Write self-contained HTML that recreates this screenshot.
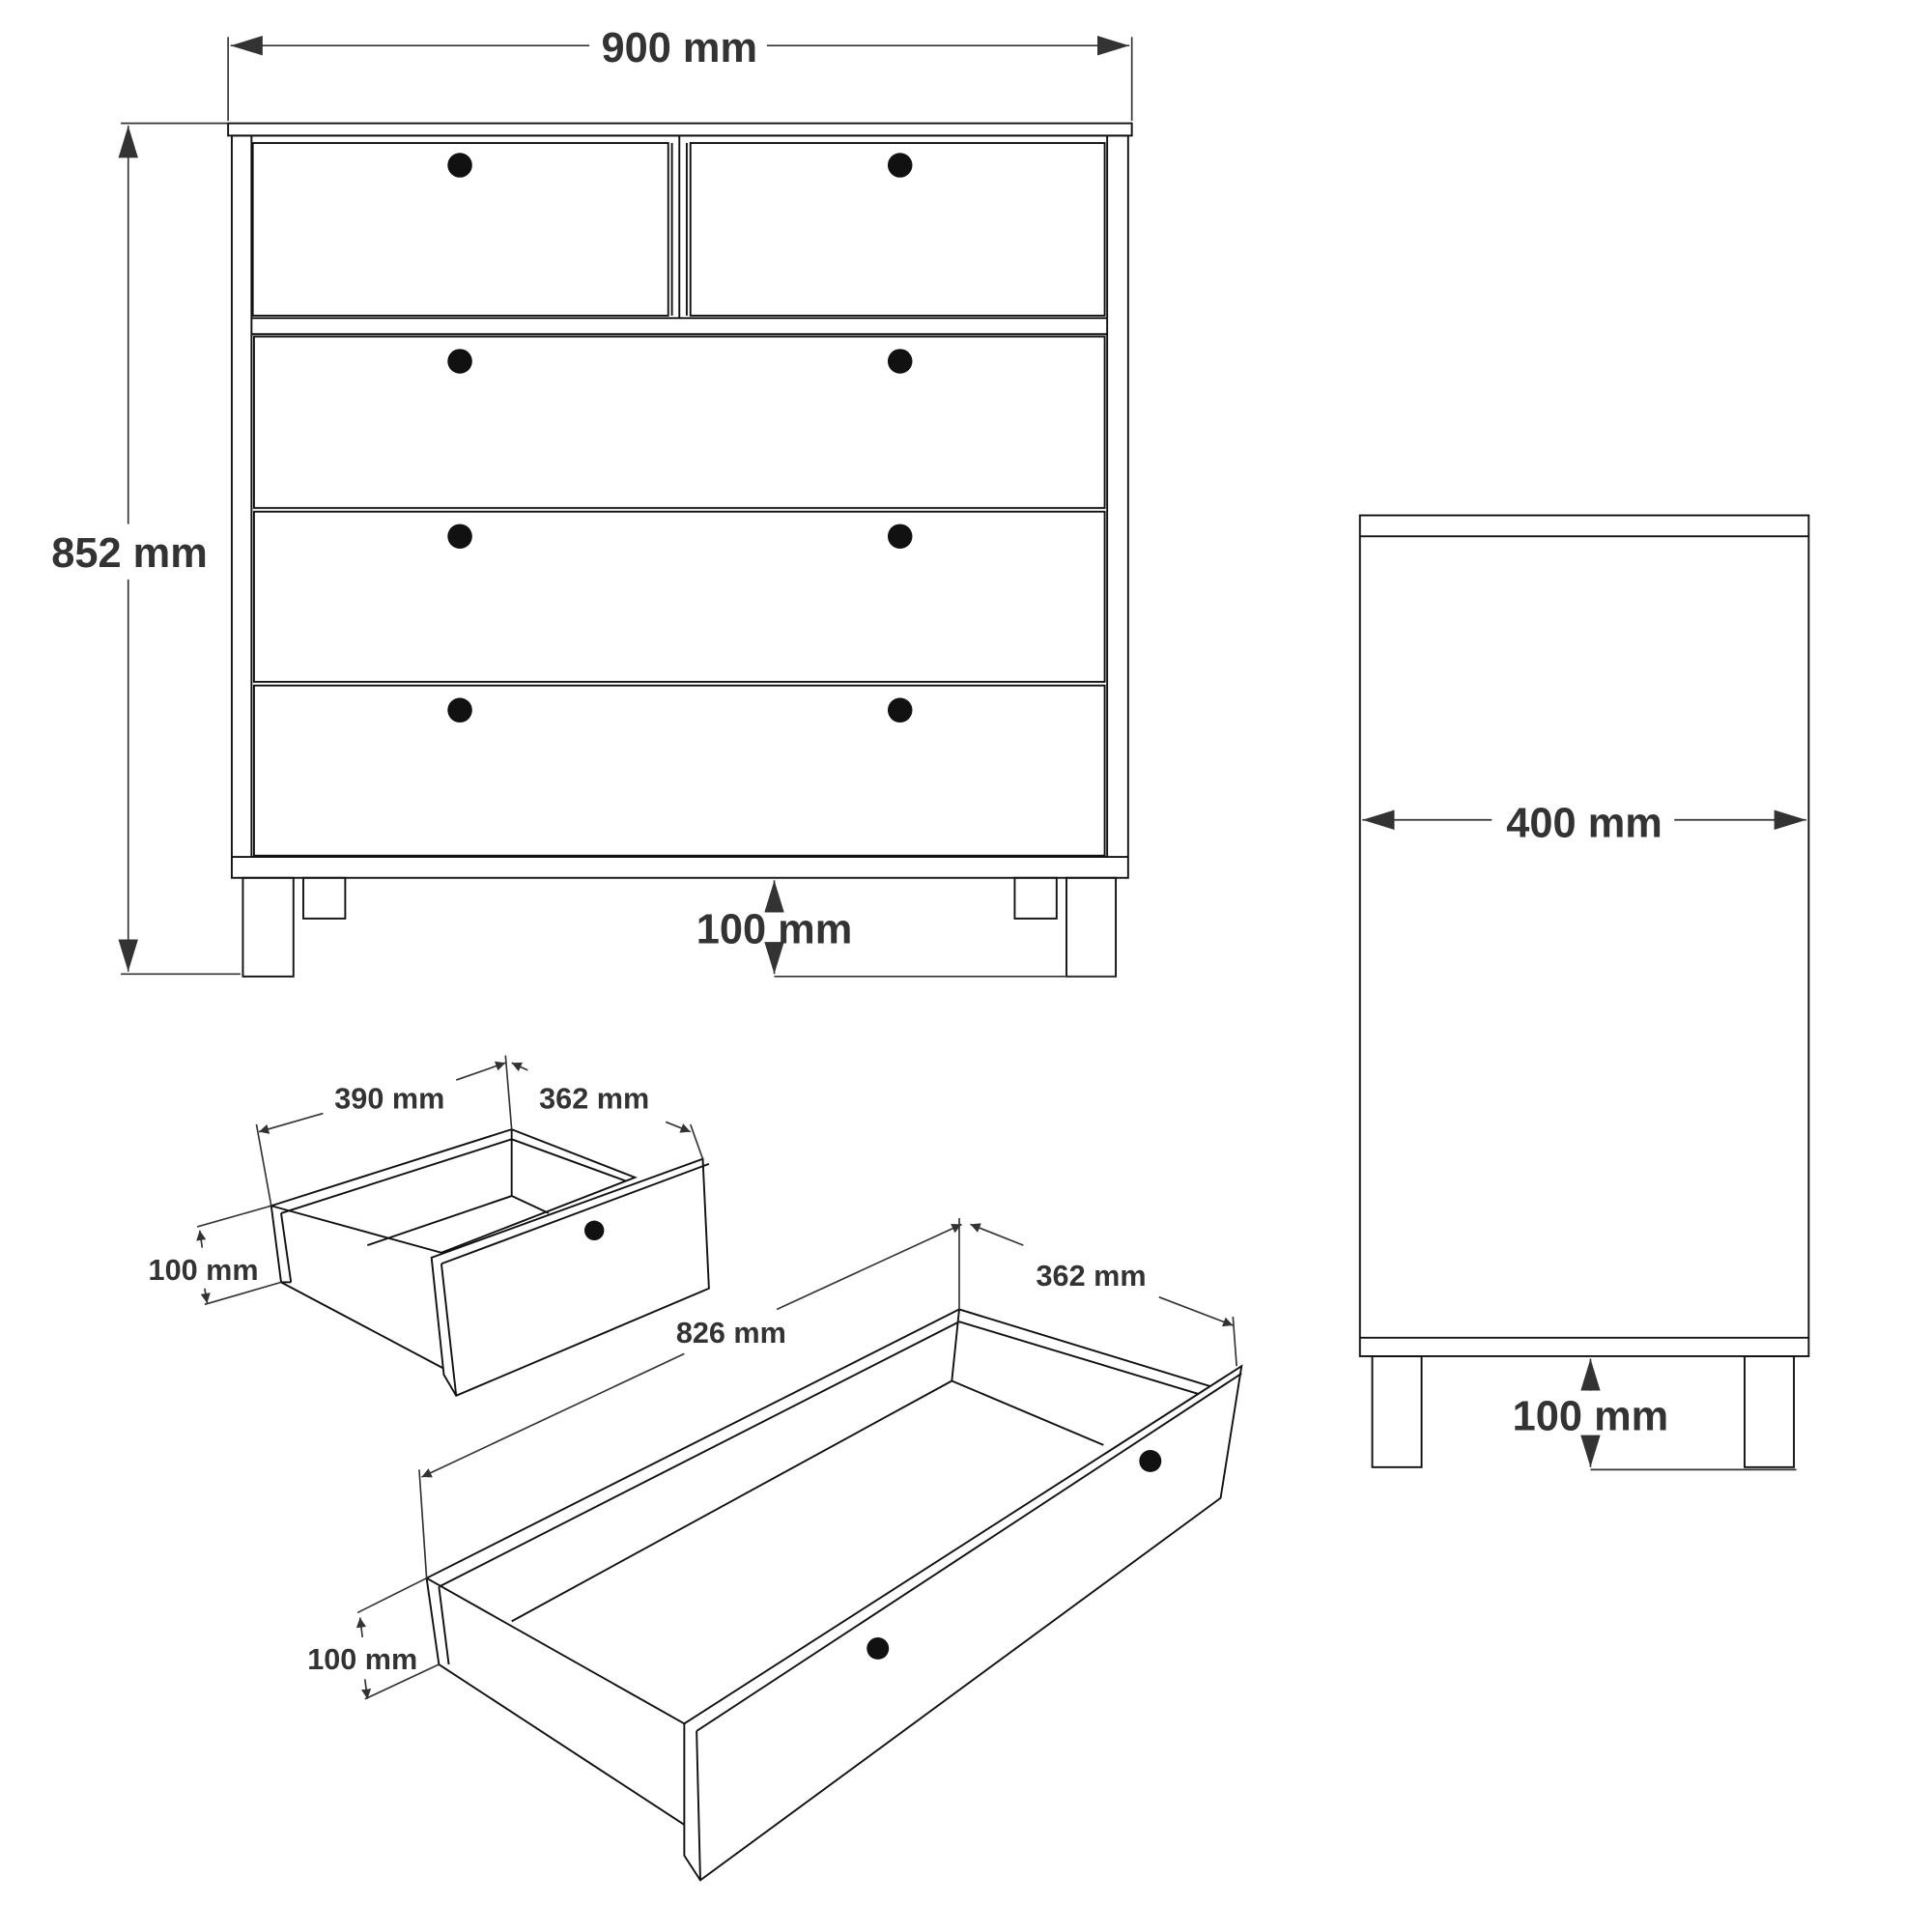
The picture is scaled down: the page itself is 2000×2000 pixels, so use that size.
<!DOCTYPE html>
<html><head><meta charset="utf-8"><style>html,body{margin:0;padding:0;background:#fff}svg{display:block}</style></head>
<body>
<svg width="2000" height="2000" viewBox="0 0 1567 1567" xmlns="http://www.w3.org/2000/svg">
<defs>
<marker id="a" viewBox="0 0 10 10" refX="10" refY="5" markerWidth="8" markerHeight="8" markerUnits="userSpaceOnUse" orient="auto-start-reverse"><path d="M0,0L10,5L0,10z" fill="#333"/></marker>
<marker id="b" viewBox="0 0 10 10" refX="10" refY="5" markerWidth="26" markerHeight="16" markerUnits="userSpaceOnUse" orient="auto-start-reverse" preserveAspectRatio="none"><path d="M0,0L10,5L0,10z" fill="#333"/></marker>
</defs>
<g fill="none" stroke="#111" stroke-width="1.5">
<rect x="185" y="100" width="733" height="10"/>
<rect x="188" y="110" width="727" height="602"/>
<line x1="204" y1="110" x2="204" y2="695"/><line x1="898" y1="110" x2="898" y2="695"/>
<rect x="205" y="116" width="337" height="140"/><rect x="560" y="116" width="336" height="140"/>
<line x1="551" y1="110" x2="551" y2="258"/><line x1="545" y1="116" x2="545" y2="256"/><line x1="557" y1="116" x2="557" y2="256"/>
<line x1="204" y1="258" x2="898" y2="258"/><line x1="204" y1="271" x2="898" y2="271"/>
<rect x="206" y="273" width="690" height="139"/>
<rect x="206" y="415" width="690" height="138"/>
<rect x="206" y="556" width="690" height="138"/>
<line x1="188" y1="695" x2="915" y2="695"/>
<rect x="197" y="712" width="41" height="80"/><rect x="865" y="712" width="40" height="80"/>
<rect x="246" y="712" width="34" height="33"/><rect x="823" y="712" width="34" height="33"/>
<rect x="1103" y="418" width="364" height="682"/>
<line x1="1103" y1="435" x2="1467" y2="435"/><line x1="1103" y1="1085" x2="1467" y2="1085"/>
<rect x="1113" y="1100" width="40" height="90"/><rect x="1415" y="1100" width="40" height="90"/>
<polygon points="220,978 415,916 515,955 358,1016"/>
<line x1="228" y1="984" x2="415" y2="924"/><line x1="415" y1="924" x2="508" y2="958"/>
<line x1="415" y1="916" x2="415" y2="970"/><line x1="415" y1="970" x2="298" y2="1010"/><line x1="415" y1="970" x2="445" y2="984"/>
<polyline points="220,978 228,1040 360,1110"/><line x1="228" y1="984" x2="236" y2="1040"/><line x1="228" y1="1040" x2="236" y2="1040"/>
<polygon points="350,1020 570,940 575,1045 370,1132 360,1115" fill="#fff"/>
<line x1="358" y1="1025" x2="575" y2="944"/><line x1="358" y1="1025" x2="370" y2="1132"/>
<polygon points="346,1280 778,1062 1000,1130 555,1398"/>
<line x1="356" y1="1287" x2="778" y2="1072"/><line x1="778" y1="1072" x2="990" y2="1136"/>
<line x1="778" y1="1062" x2="772" y2="1120"/><line x1="772" y1="1120" x2="415" y2="1315"/><line x1="772" y1="1120" x2="895" y2="1172"/>
<polyline points="346,1280 356,1350 555,1480"/><line x1="356" y1="1287" x2="364" y2="1350"/>
<polygon points="555,1398 1007,1108 990,1215 568,1525 555,1505" fill="#fff"/>
<line x1="565" y1="1404" x2="1007" y2="1114"/><line x1="565" y1="1404" x2="568" y2="1525"/>
</g>
<g fill="#111">
<circle cx="373" cy="134" r="10"/><circle cx="730" cy="134" r="10"/>
<circle cx="373" cy="293" r="10"/><circle cx="730" cy="293" r="10"/>
<circle cx="373" cy="435" r="10"/><circle cx="730" cy="435" r="10"/>
<circle cx="373" cy="576" r="10"/><circle cx="730" cy="576" r="10"/>
<circle cx="482" cy="998" r="8"/><circle cx="933" cy="1185" r="9"/><circle cx="712" cy="1337" r="9"/>
</g>
<g stroke="#333" stroke-width="1.3" fill="none">
<line x1="185" y1="30" x2="185" y2="98"/><line x1="918" y1="30" x2="918" y2="98"/>
<line x1="187" y1="37" x2="478" y2="37" marker-start="url(#b)"/><line x1="622" y1="37" x2="916" y2="37" marker-end="url(#b)"/>
<line x1="98" y1="100" x2="185" y2="100"/><line x1="98" y1="790" x2="195" y2="790"/>
<line x1="104" y1="102" x2="104" y2="425" marker-start="url(#b)"/><line x1="104" y1="470" x2="104" y2="788" marker-end="url(#b)"/>
<line x1="628" y1="714" x2="628" y2="735" marker-start="url(#b)"/><line x1="628" y1="770" x2="628" y2="790" marker-end="url(#b)"/>
<line x1="628" y1="792" x2="905" y2="792"/>
<line x1="1105" y1="665" x2="1210" y2="665" marker-start="url(#b)"/><line x1="1358" y1="665" x2="1465" y2="665" marker-end="url(#b)"/>
<line x1="1290" y1="1102" x2="1290" y2="1128" marker-start="url(#b)"/><line x1="1290" y1="1165" x2="1290" y2="1190" marker-end="url(#b)"/>
<line x1="1290" y1="1192" x2="1457" y2="1192"/>
<line x1="210" y1="918" x2="262" y2="903" marker-start="url(#a)"/><line x1="370" y1="876" x2="410" y2="862" marker-end="url(#a)"/>
<line x1="415" y1="862" x2="428" y2="868" marker-start="url(#a)"/><line x1="540" y1="910" x2="560" y2="918" marker-end="url(#a)"/>
<line x1="208" y1="912" x2="220" y2="978"/><line x1="410" y1="856" x2="415" y2="916"/><line x1="560" y1="912" x2="570" y2="940"/>
<line x1="162" y1="998" x2="164" y2="1012" marker-start="url(#a)"/><line x1="166" y1="1045" x2="168" y2="1057" marker-end="url(#a)"/>
<line x1="160" y1="995" x2="220" y2="978"/><line x1="166" y1="1058" x2="228" y2="1040"/>
<line x1="342" y1="1198" x2="555" y2="1098" marker-start="url(#a)"/><line x1="630" y1="1062" x2="780" y2="993" marker-end="url(#a)"/>
<line x1="787" y1="993" x2="830" y2="1010" marker-start="url(#a)"/><line x1="940" y1="1052" x2="1000" y2="1075" marker-end="url(#a)"/>
<line x1="340" y1="1192" x2="346" y2="1280"/><line x1="778" y1="988" x2="778" y2="1062"/><line x1="1000" y1="1068" x2="1003" y2="1108"/>
<line x1="292" y1="1312" x2="294" y2="1328" marker-start="url(#a)"/><line x1="296" y1="1362" x2="298" y2="1378" marker-end="url(#a)"/>
<line x1="290" y1="1308" x2="346" y2="1280"/><line x1="296" y1="1378" x2="356" y2="1350"/>
</g>
<g font-family="Liberation Sans, sans-serif" font-weight="bold" fill="#333" text-anchor="middle">
<text x="551" y="50" font-size="34">900 mm</text>
<text x="105" y="460" font-size="34">852 mm</text>
<text x="628" y="765" font-size="34">100 mm</text>
<text x="1285" y="679" font-size="34">400 mm</text>
<text x="1290" y="1160" font-size="34">100 mm</text>
<text x="316" y="899" font-size="24">390 mm</text>
<text x="482" y="899" font-size="24">362 mm</text>
<text x="165" y="1038" font-size="24">100 mm</text>
<text x="593" y="1089" font-size="24">826 mm</text>
<text x="885" y="1043" font-size="24">362 mm</text>
<text x="294" y="1354" font-size="24">100 mm</text>
</g>
</svg>
</body></html>
